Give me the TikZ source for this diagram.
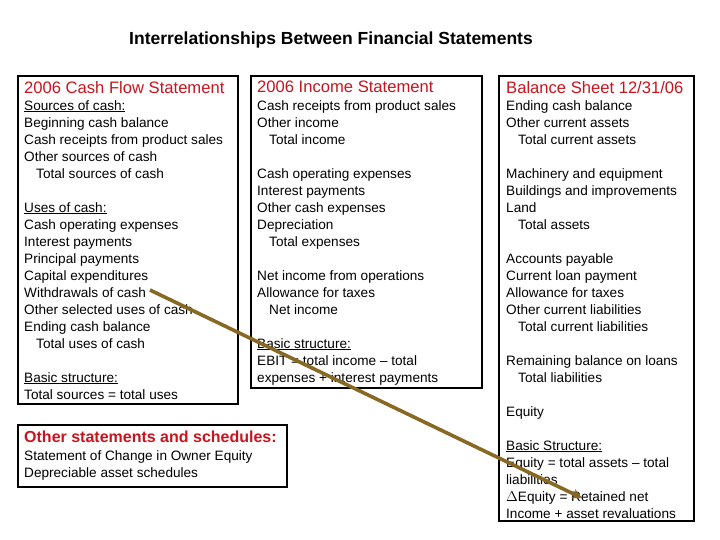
\documentclass[tikz,border=0pt]{standalone}
\usepackage{fontspec}
\setmainfont{Liberation Sans}
\usetikzlibrary{arrows.meta}
\definecolor{headred}{RGB}{200,20,30}
\definecolor{arrowbrown}{RGB}{135,105,35}
\newcommand{\ind}{\hspace*{12pt}}
\begin{document}
\begin{tikzpicture}[x=1pt,y=-1pt,
  box/.style={draw, line width=1.6pt, anchor=north west, inner sep=0pt},
  txt/.style={anchor=north west, align=left, inner sep=0pt, font=\fontsize{13.6}{17}\selectfont},
  head/.style={anchor=north west, inner sep=0pt, text=headred, font=\fontsize{16.6}{17}\selectfont}]
\useasboundingbox (0,0) rectangle (720,540);
\node[font=\bfseries\fontsize{17.5}{18}\selectfont] (title) at (331,40) {Interrelationships Between Financial Statements};
% boxes
\node[box, minimum width=220pt, minimum height=328pt] (cfs) at (17,75) {};
\node[box, minimum width=231pt, minimum height=312pt] (inc) at (250,75) {};
\node[box, minimum width=195pt, minimum height=445pt] (bal) at (498,75) {};
\node[box, minimum width=269pt, minimum height=62pt] (oth) at (17,424) {};
% headings
\node[head] (cfsh) at (24,81) {2006 Cash Flow Statement};
\node[head] (inch) at (257,81) {2006 Income Statement};
\node[head] (balh) at (506,81) {Balance Sheet 12/31/06};
\node[head, font=\bfseries\fontsize{16}{17}\selectfont] (othh) at (24,431) {Other statements and schedules:};
% texts
\node[txt] (cfst) at (24,100) {\underline{Sources of cash:}\\ Beginning cash balance\\ Cash receipts from product sales\\
  Other sources of cash\\ \ind Total sources of cash\\[17pt] \underline{Uses of cash:}\\ Cash operating expenses\\
  Interest payments\\ Principal payments\\ Capital expenditures\\ Withdrawals of cash\\ Other selected uses of cash\\
  Ending cash balance\\ \ind Total uses of cash\\[17pt] \underline{Basic structure:}\\ Total sources = total uses};
\node[txt] (inct) at (257,100) {Cash receipts from product sales\\ Other income\\ \ind Total income\\[17pt]
  Cash operating expenses\\ Interest payments\\ Other cash expenses\\ Depreciation\\ \ind Total expenses\\[17pt]
  Net income from operations\\ Allowance for taxes\\ \ind Net income\\[17pt] \underline{Basic structure:}\\
  EBIT = total income -- total\\ expenses + interest payments};
\node[txt] (balt) at (506,100) {Ending cash balance\\ Other current assets\\ \ind Total current assets\\[17pt]
  Machinery and equipment\\ Buildings and improvements\\ Land\\ \ind Total assets\\[17pt]
  Accounts payable\\ Current loan payment\\ Allowance for taxes\\ Other current liabilities\\ \ind Total current liabilities\\[17pt]
  Remaining balance on loans\\ \ind Total liabilities\\[17pt] Equity\\[17pt] \underline{Basic Structure:}\\
  Equity = total assets -- total\\ liabilities\\ $\Delta$Equity = Retained net\\ Income + asset revaluations};
\node[txt] (otht) at (24,450) {Statement of Change in Owner Equity\\ Depreciable asset schedules};
% link
\coordinate (wd) at (150,290);
\coordinate (re) at (582,498);
\draw[arrowbrown, line width=3.6pt, -{Stealth[length=10pt,width=10pt]}] (wd) -- (re);
\end{tikzpicture}
\end{document}
